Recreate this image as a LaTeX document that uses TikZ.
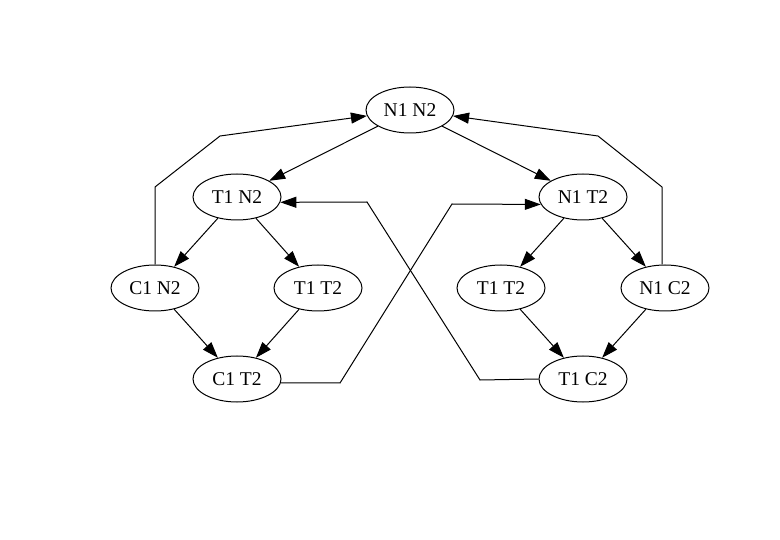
\documentclass[tikz,border=0pt]{standalone}
\usepackage{fontspec}
\setmainfont{Liberation Serif}
\usetikzlibrary{shapes.geometric,arrows.meta}
\begin{document}
\begin{tikzpicture}[x=1pt,y=-1pt,
  st/.style={draw,ellipse,minimum width=88pt,minimum height=46pt,inner sep=0pt,line width=1pt,font=\fontsize{19.5}{20}\selectfont},
  ed/.style={line width=1pt,-{Triangle[length=16pt,width=11pt]}}]
\useasboundingbox (0,0) rectangle (780,540);
\node[st] (n1n2) at (410,110) {N1 N2};
\node[st] (t1n2) at (237,197) {T1 N2};
\node[st] (n1t2) at (583,197) {N1 T2};
\node[st] (c1n2) at (155,288) {C1 N2};
\node[st] (t1t2a) at (318,288) {T1 T2};
\node[st] (t1t2b) at (501,288) {T1 T2};
\node[st] (n1c2) at (665,288) {N1 C2};
\node[st] (c1t2) at (237,379) {C1 T2};
\node[st] (t1c2) at (583,379) {T1 C2};
\coordinate (a1) at (155,187);
\coordinate (a2) at (220,136);
\coordinate (b1) at (662,187);
\coordinate (b2) at (598,136);
\coordinate (c1) at (340,383);
\coordinate (c2) at (452,204);
\coordinate (d1) at (480,380);
\coordinate (d2) at (367,202);
\draw[ed] (n1n2) -- (t1n2);
\draw[ed] (n1n2) -- (n1t2);
\draw[ed] (t1n2) -- (c1n2);
\draw[ed] (t1n2) -- (t1t2a);
\draw[ed] (c1n2) -- (c1t2);
\draw[ed] (t1t2a) -- (c1t2);
\draw[ed] (n1t2) -- (t1t2b);
\draw[ed] (n1t2) -- (n1c2);
\draw[ed] (t1t2b) -- (t1c2);
\draw[ed] (n1c2) -- (t1c2);
\draw[ed] (c1n2.north) -- (a1) -- (a2) -- (n1n2);
\draw[ed] (b1 |- n1c2.north) -- (b1) -- (b2) -- (n1n2);
\draw[ed] (c1t2.355) -- (c1) -- (c2) -- (n1t2.190);
\draw[ed] (t1c2.west) -- (d1) -- (d2) -- (t1n2.353);
\end{tikzpicture}
\end{document}
